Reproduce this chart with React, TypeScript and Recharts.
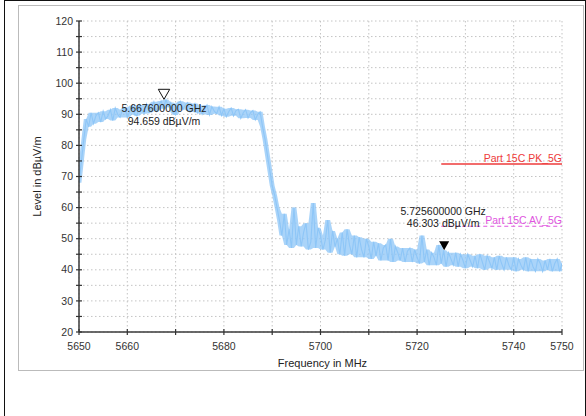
import React from 'react';
import { ComposedChart, Line, Area, Scatter, XAxis, YAxis, CartesianGrid } from 'recharts';

// sweep: 5650 MHz .. 5750 MHz, one reading every 0.5 MHz
const START_MHZ = 5650;
const STEP_MHZ = 0.5;
const levels = [
  68, 75, 82, 88.5, 86, 90.5, 87, 89.5, 90.5, 87.5,
  91, 88.5, 89.5, 91.5, 88, 92, 90, 89, 91.5, 92.2,
  89, 91, 92.8, 90, 89.5, 93, 91.5, 90.2, 93.3, 90.5,
  92, 94, 91, 93, 94.3, 91.8, 94.7, 92.5, 93.8, 90.5,
  89.8, 93.5, 94.2, 91.5, 93, 93.8, 90.8, 92.5, 93.5, 90.5,
  92.8, 90, 91.5, 93, 89.8, 92.5, 91, 90.2, 92.4, 89.6,
  91.8, 89.2, 90.8, 92, 89.5, 91.2, 91.6, 88.7, 90.5, 91.5,
  88.8, 90.5, 91.2, 88.2, 90, 90.8, 86, 82, 77, 72,
  67, 64, 60, 56, 51, 58, 48, 53, 47, 60,
  48, 54, 47.5, 52, 55, 46.5, 49, 61.5, 47, 53.5,
  51, 46.5, 49.5, 56, 45.5, 52.5, 47.5, 50, 45, 52,
  44.5, 53, 48, 45, 51, 44, 50.5, 46.5, 44, 50,
  47.5, 43.5, 49, 44.5, 48.5, 43, 47, 48, 43, 50,
  42.5, 47.5, 45.5, 43, 47, 42.5, 46, 47, 42.5, 46.5,
  44, 42, 51, 42.5, 46.5, 41.5, 45.5, 44, 41.5, 48,
  42, 46.3, 41, 45.5, 43.5, 41.5, 45.5, 41, 45, 43,
  40.5, 45, 43, 41, 44.5, 40.5, 45, 42.5, 40, 44.5,
  42.5, 40.5, 44, 40, 44.5, 42, 40, 44, 41.5, 40,
  44, 39.5, 43.5, 41.5, 40, 44, 39.5, 43.5, 41, 39.5,
  43.5, 42, 39.5, 43, 40, 43.5, 39.5, 42, 43.5, 39.5,
  42,
];

const xTicks = [5650, 5660, 5670, 5680, 5690, 5700, 5710, 5720, 5730, 5740, 5750];
const xLabels = [5650, 5660, 5680, 5700, 5720, 5740, 5750];
const yTicks = [20, 25, 30, 35, 40, 45, 50, 55, 60, 65, 70, 75, 80, 85, 90, 95, 100, 105, 110, 115, 120];
const yLabels = [20, 30, 40, 50, 60, 70, 80, 90, 100, 110, 120];

const limitFreqs = [5725, 5750];
const pkLimit = [74, 74];
const avLimit = [54, 54];

const markerFreqs = [5667.6, 5725.6];
const markerLevels = [94.659, 46.303];
const markerFreqText = ['5.667600000 GHz', '5.725600000 GHz'];
const markerLevelText = ['94.659 dBµV/m', '46.303 dBµV/m'];

const FONT = '"Liberation Sans", Arial, sans-serif';
const TRACE = '#8ec6f7';
const PK = '#ee3b3b';
const AV = '#e055e0';

const trace = levels.map((v, i) => {
  const near = [levels[i - 1] ?? v, v, levels[i + 1] ?? v];
  return { f: START_MHZ + i * STEP_MHZ, v, band: [Math.min(...near), Math.max(...near)] };
});
const pkData = limitFreqs.map((f, i) => ({ f, v: pkLimit[i] }));
const avData = limitFreqs.map((f, i) => ({ f, v: avLimit[i] }));
const marker1 = [{ f: markerFreqs[0], v: markerLevels[0] }];
const marker2 = [{ f: markerFreqs[1], v: markerLevels[1] }];

const XTick = (props: any) => {
  const { x, y, payload } = props;
  return (
    <g>
      <line x1={x} x2={x} y1={y - 3} y2={y + 3} stroke="#333" strokeWidth={1.2} />
      {xLabels.includes(payload.value) && (
        <text x={x} y={y + 18} textAnchor="middle" fontSize={10.5} fill="#333" fontFamily={FONT}>
          {payload.value}
        </text>
      )}
    </g>
  );
};

const YTick = (props: any) => {
  const { x, y, payload } = props;
  return (
    <g>
      <line x1={x - 3} x2={x + 3} y1={y} y2={y} stroke="#333" strokeWidth={1.2} />
      {yLabels.includes(payload.value) && (
        <text x={x - 6} y={y} dy="0.35em" textAnchor="end" fontSize={10.5} fill="#333" fontFamily={FONT}>
          {payload.value}
        </text>
      )}
    </g>
  );
};

const limitLabel = (text: string, color: string) => (props: any) => {
  if (props.index !== 1) return null;
  return (
    <text x={props.x} y={props.y - 2} textAnchor="end" fontSize={10.5} fill={color} fontFamily={FONT}>
      {text}
    </text>
  );
};

const MarkerOpen = (props: any) => {
  const { cx, cy } = props;
  return (
    <g fontFamily={FONT} fontSize={10.5} fill="#222">
      <path d={`M${cx - 5.7},${cy - 10.5} L${cx + 5.7},${cy - 10.5} L${cx},${cy - 0.5} Z`} fill="#fff" stroke="#111" strokeWidth={1} />
      <text x={cx} y={cy + 9} dy="0.35em" textAnchor="middle">{markerFreqText[0]}</text>
      <text x={cx} y={cy + 21.5} dy="0.35em" textAnchor="middle">{markerLevelText[0]}</text>
    </g>
  );
};

const MarkerFilled = (props: any) => {
  const { cx, cy } = props;
  return (
    <g fontFamily={FONT} fontSize={10.5} fill="#222">
      <path d={`M${cx - 5},${cy - 9} L${cx + 5},${cy - 9} L${cx},${cy} Z`} fill="#000" />
      <text x={cx - 1} y={cy - 38.7} dy="0.35em" textAnchor="middle">{markerFreqText[1]}</text>
      <text x={cx - 1} y={cy - 27} dy="0.35em" textAnchor="middle">{markerLevelText[1]}</text>
    </g>
  );
};

export default function App() {
  return (
    <div style={{ position: 'absolute', left: 0, top: 0, width: 586, height: 416, background: '#fff', overflow: 'hidden' }}>
      <div style={{ position: 'absolute', left: 4, top: 0, width: 582, height: 430, border: '1px solid #111', boxSizing: 'border-box' }} />
      <div style={{ position: 'absolute', left: 18, top: 5, width: 566, height: 366, border: '1px solid #bbb', boxSizing: 'border-box' }} />
      <div style={{ position: 'absolute', left: 0, top: 0 }}>
        <ComposedChart width={586} height={416} margin={{ top: 21, right: 24, left: 19, bottom: 54 }}>
          <CartesianGrid stroke="#c4c4c4" strokeDasharray="1.5 2.5" />
          <XAxis
            type="number"
            dataKey="f"
            domain={[5650, 5750]}
            ticks={xTicks}
            allowDataOverflow
            height={30}
            tickSize={0}
            tickMargin={0}
            tickLine={false}
            axisLine={{ stroke: '#3a3a3a', strokeWidth: 1.5 }}
            tick={<XTick />}
            interval={0}
            label={{
              content: (p: any) => (
                <text x={p.viewBox.x + p.viewBox.width / 2 + 2} y={p.viewBox.y + 35} textAnchor="middle" fontSize={11} fill="#222" fontFamily={FONT}>
                  Frequency in MHz
                </text>
              ),
            }}
          />
          <YAxis
            type="number"
            domain={[20, 120]}
            ticks={yTicks}
            allowDataOverflow
            width={60}
            tickSize={0}
            tickMargin={0}
            tickLine={false}
            axisLine={{ stroke: '#3a3a3a', strokeWidth: 1.5 }}
            tick={<YTick />}
            interval={0}
            label={{
              content: (p: any) => (
                <text
                  x={p.viewBox.x + 18}
                  y={p.viewBox.y + p.viewBox.height / 2}
                  transform={`rotate(-90 ${p.viewBox.x + 18} ${p.viewBox.y + p.viewBox.height / 2})`}
                  textAnchor="middle"
                  dy="0.35em"
                  fontSize={11}
                  fill="#222"
                  fontFamily={FONT}
                >
                  Level in dBµV/m
                </text>
              ),
            }}
          />
          <Area data={trace} dataKey="band" type="linear" stroke="none" fill={TRACE} fillOpacity={0.75} isAnimationActive={false} />
          <Line data={trace} dataKey="v" type="linear" stroke={TRACE} strokeWidth={1.1} dot={false} isAnimationActive={false} />
          <Line data={pkData} dataKey="v" type="linear" stroke={PK} strokeWidth={1.5} dot={false} isAnimationActive={false} label={limitLabel('Part 15C PK_5G', PK)} />
          <Line data={avData} dataKey="v" type="linear" stroke={AV} strokeWidth={1.2} strokeDasharray="4 3" dot={false} isAnimationActive={false} label={limitLabel('Part 15C AV_5G', AV)} />
          <Scatter data={marker1} dataKey="v" shape={<MarkerOpen />} isAnimationActive={false} />
          <Scatter data={marker2} dataKey="v" shape={<MarkerFilled />} isAnimationActive={false} />
        </ComposedChart>
      </div>
    </div>
  );
}
